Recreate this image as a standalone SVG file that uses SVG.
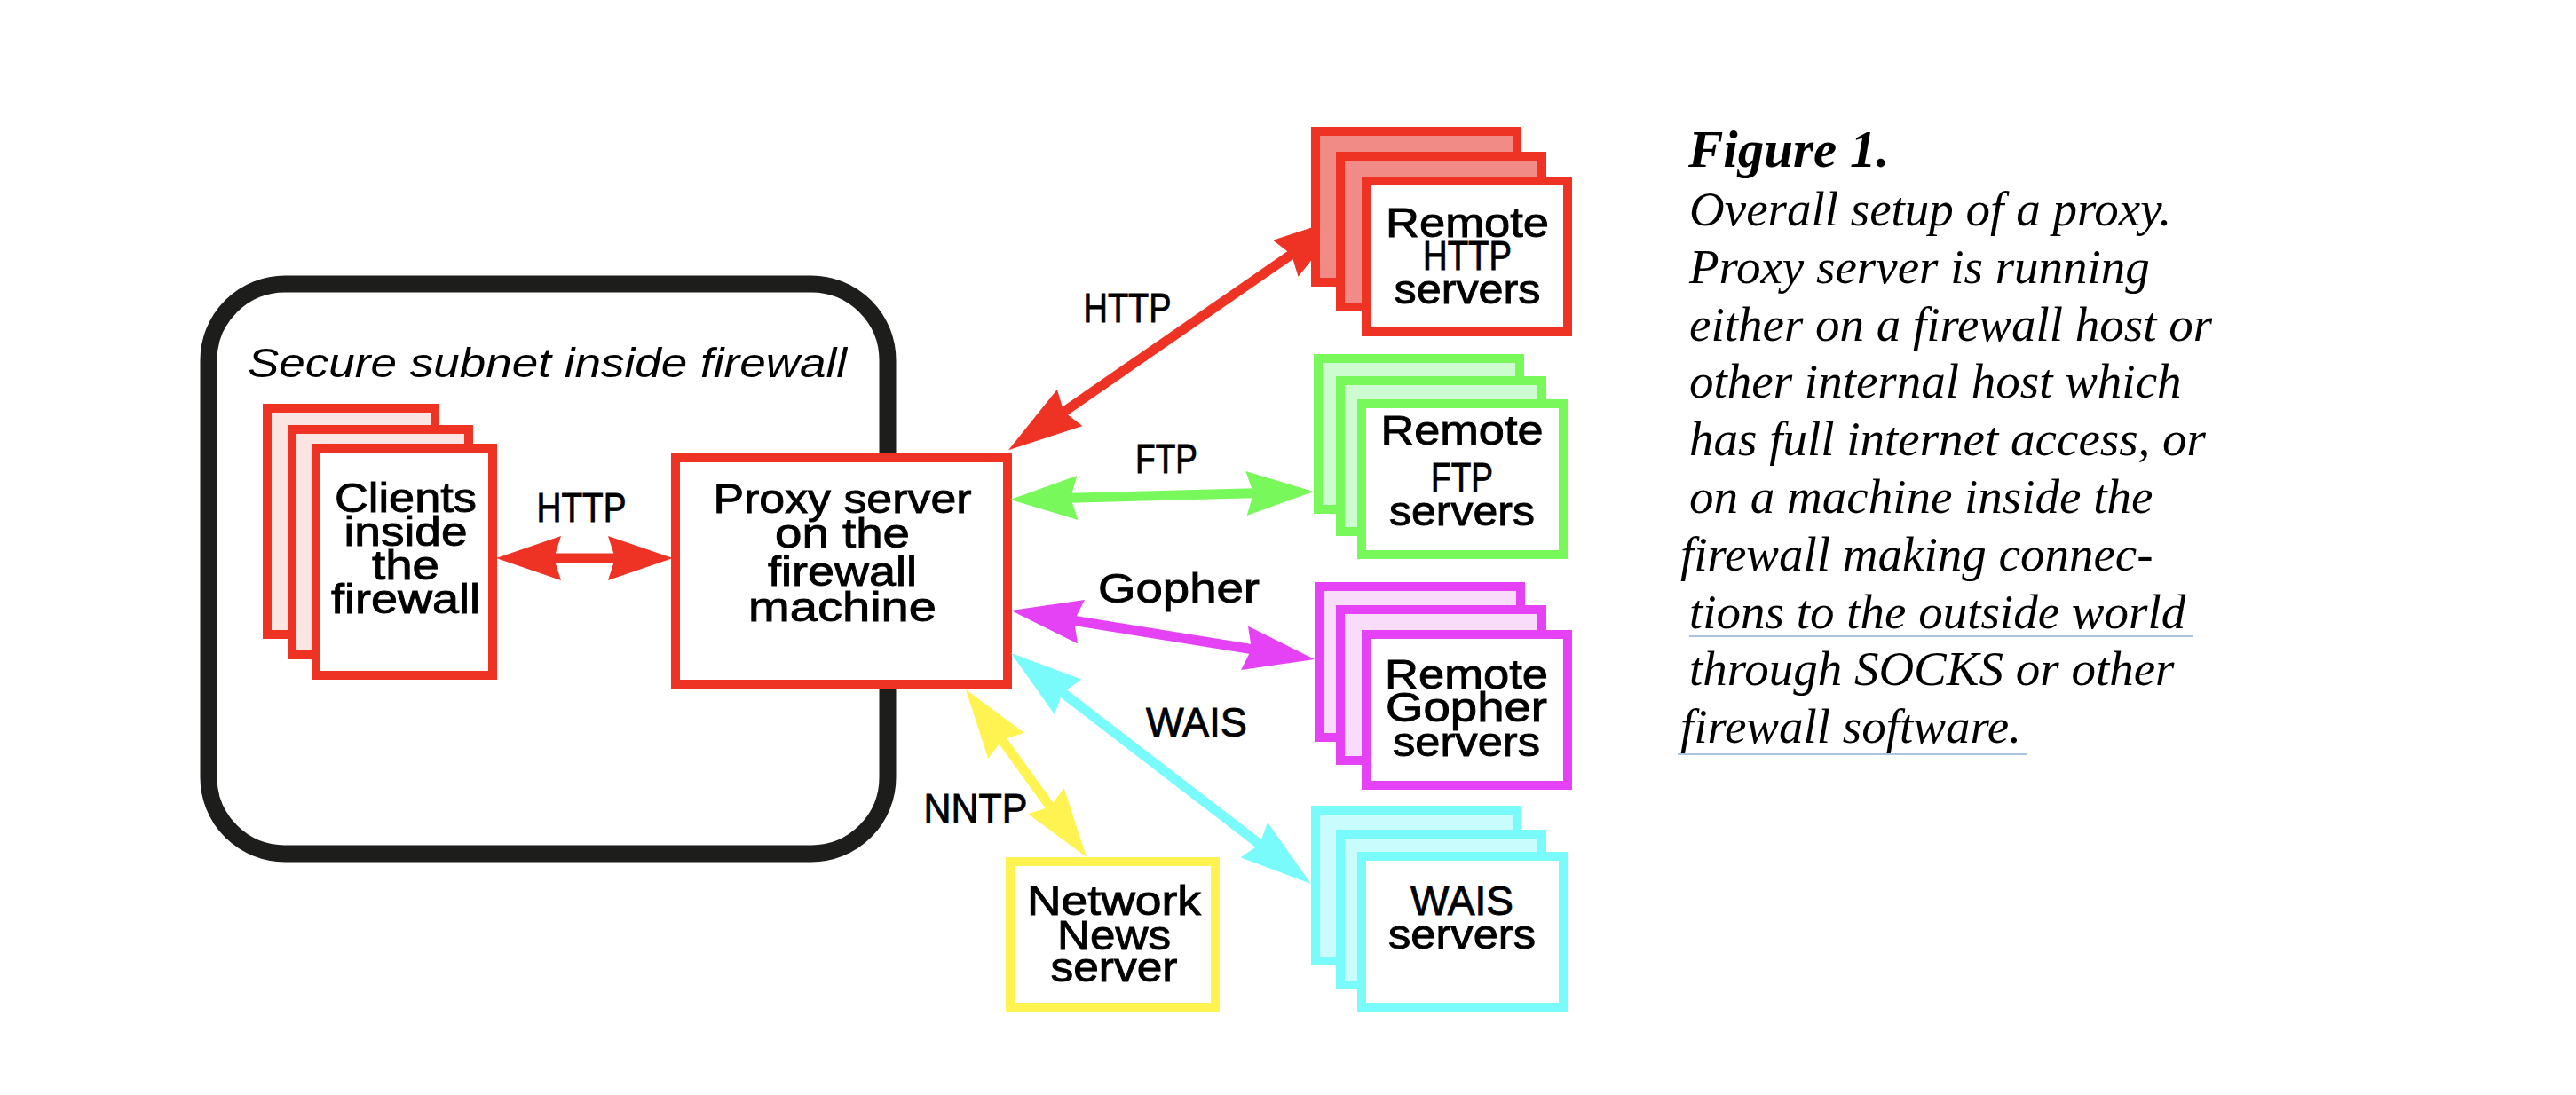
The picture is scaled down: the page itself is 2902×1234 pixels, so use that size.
<svg xmlns="http://www.w3.org/2000/svg" width="2902" height="1234" viewBox="0 0 2902 1234">
<style>
.lbl{font-family:"Liberation Sans",Arial,sans-serif;font-size:47px;fill:#000;stroke:#000;stroke-width:0.9px;text-anchor:middle}
.sub{font-family:"Liberation Sans",Arial,sans-serif;font-style:italic;font-size:46px;fill:#000}
.cap{font-family:"Liberation Serif","Times New Roman",serif;font-style:italic;font-size:55px;fill:#000}
.fig{font-family:"Liberation Serif","Times New Roman",serif;font-style:italic;font-weight:bold;font-size:59px;fill:#000}
.box{stroke-width:10}
.r{stroke:#ee3224}
.g{stroke:#78f85b}
.m{stroke:#e541f5}
.c{stroke:#79fbfb}
.y{stroke:#fef350}
.front{fill:#fff}
.conn{stroke-width:11;fill:none}
.ul{stroke:#a9c4dc;stroke-width:2}
</style>
<defs>
<marker id="ah-r-s" viewBox="0 0 73 50" refX="43" refY="25" markerWidth="73" markerHeight="50" markerUnits="userSpaceOnUse" orient="auto-start-reverse"><path d="M0,0 L73,25 L0,50 L8,25 Z" fill="#ee3224"/></marker>
<marker id="ah-r" viewBox="0 0 84 50" refX="54" refY="25" markerWidth="84" markerHeight="50" markerUnits="userSpaceOnUse" orient="auto-start-reverse"><path d="M0,0 L84,25 L0,50 L8,25 Z" fill="#ee3224"/></marker>
<marker id="ah-g" viewBox="0 0 76 50" refX="46" refY="25" markerWidth="76" markerHeight="50" markerUnits="userSpaceOnUse" orient="auto-start-reverse"><path d="M0,0 L76,25 L0,50 L8,25 Z" fill="#78f85b"/></marker>
<marker id="ah-m" viewBox="0 0 80 50" refX="50" refY="25" markerWidth="80" markerHeight="50" markerUnits="userSpaceOnUse" orient="auto-start-reverse"><path d="M0,0 L80,25 L0,50 L8,25 Z" fill="#e541f5"/></marker>
<marker id="ah-c" viewBox="0 0 81 50" refX="51" refY="25" markerWidth="81" markerHeight="50" markerUnits="userSpaceOnUse" orient="auto-start-reverse"><path d="M0,0 L81,25 L0,50 L8,25 Z" fill="#79fbfb"/></marker>
<marker id="ah-y" viewBox="0 0 78 50" refX="48" refY="25" markerWidth="78" markerHeight="50" markerUnits="userSpaceOnUse" orient="auto-start-reverse"><path d="M0,0 L78,25 L0,50 L8,25 Z" fill="#fef350"/></marker>
</defs>
<rect width="2902" height="1234" fill="#fff"/>

<g id="firewall-subnet">
<rect x="235" y="320" width="765" height="642" rx="86" ry="86" fill="none" stroke="#1d1d1b" stroke-width="19"/>
<text class="sub" x="279" y="425" textLength="675" lengthAdjust="spacingAndGlyphs">Secure subnet inside firewall</text>
</g>

<g id="clients">
<rect class="box r" x="301" y="460" width="189" height="255" fill="#fbe5e3"/>
<rect class="box r" x="329" y="484" width="199" height="254" fill="#fbe5e3"/>
<rect class="box r front" x="356" y="505" width="199" height="256"/>
<text class="lbl" x="457" y="577" textLength="160" lengthAdjust="spacingAndGlyphs">Clients</text>
<text class="lbl" x="457" y="615" textLength="139" lengthAdjust="spacingAndGlyphs">inside</text>
<text class="lbl" x="457" y="653" textLength="76" lengthAdjust="spacingAndGlyphs">the</text>
<text class="lbl" x="457" y="691" textLength="168" lengthAdjust="spacingAndGlyphs">firewall</text>
</g>

<g id="proxy">
<rect class="box r front" x="761" y="516" width="374" height="255"/>
<text class="lbl" x="949" y="578" textLength="291" lengthAdjust="spacingAndGlyphs">Proxy server</text>
<text class="lbl" x="949" y="617" textLength="152" lengthAdjust="spacingAndGlyphs">on the</text>
<text class="lbl" x="949" y="660" textLength="168" lengthAdjust="spacingAndGlyphs">firewall</text>
<text class="lbl" x="949" y="700" textLength="212" lengthAdjust="spacingAndGlyphs">machine</text>
</g>

<g id="connectors">
<line class="conn r" x1="589" y1="629" x2="728" y2="629" marker-start="url(#ah-r-s)" marker-end="url(#ah-r-s)"/>
<text class="lbl" x="655" y="588" textLength="101" lengthAdjust="spacingAndGlyphs">HTTP</text>
<line class="conn r" x1="1160.7" y1="490.2" x2="1492.7" y2="260.5" marker-start="url(#ah-r)" marker-end="url(#ah-r)"/>
<text class="lbl" x="1270" y="363" textLength="99" lengthAdjust="spacingAndGlyphs">HTTP</text>
<line class="conn g" x1="1168" y1="562.2" x2="1450" y2="554.8" marker-start="url(#ah-g)" marker-end="url(#ah-g)"/>
<text class="lbl" x="1314" y="533" textLength="70" lengthAdjust="spacingAndGlyphs">FTP</text>
<line class="conn m" x1="1168.6" y1="692.8" x2="1451.4" y2="738.2" marker-start="url(#ah-m)" marker-end="url(#ah-m)"/>
<text class="lbl" x="1328" y="679" textLength="182" lengthAdjust="spacingAndGlyphs">Gopher</text>
<line class="conn c" x1="1162.8" y1="754.3" x2="1453.2" y2="977.7" marker-start="url(#ah-c)" marker-end="url(#ah-c)"/>
<text class="lbl" x="1348" y="830" textLength="114" lengthAdjust="spacingAndGlyphs">WAIS</text>
<line class="conn y" x1="1105.5" y1="801.4" x2="1206.5" y2="941.6" marker-start="url(#ah-y)" marker-end="url(#ah-y)"/>
<text class="lbl" x="1099" y="927" textLength="117" lengthAdjust="spacingAndGlyphs">NNTP</text>
</g>

<g id="http-servers">
<rect class="box r" x="1482" y="148" width="227" height="170" fill="#f08b85"/>
<rect class="box r" x="1510" y="176" width="227" height="170" fill="#f08b85"/>
<rect class="box r front" x="1539" y="204" width="227" height="170"/>
<text class="lbl" x="1653" y="267" textLength="184" lengthAdjust="spacingAndGlyphs">Remote</text>
<text class="lbl" x="1653" y="304" textLength="100" lengthAdjust="spacingAndGlyphs">HTTP</text>
<text class="lbl" x="1653" y="342" textLength="165" lengthAdjust="spacingAndGlyphs">servers</text>
</g>

<g id="ftp-servers">
<rect class="box g" x="1485" y="404" width="227" height="170" fill="#cdfcd1"/>
<rect class="box g" x="1510" y="429" width="227" height="170" fill="#cdfcd1"/>
<rect class="box g front" x="1534" y="455" width="227" height="170"/>
<text class="lbl" x="1647" y="501" textLength="183" lengthAdjust="spacingAndGlyphs">Remote</text>
<text class="lbl" x="1647" y="554" textLength="70" lengthAdjust="spacingAndGlyphs">FTP</text>
<text class="lbl" x="1647" y="592" textLength="164" lengthAdjust="spacingAndGlyphs">servers</text>
</g>

<g id="gopher-servers">
<rect class="box m" x="1486" y="661" width="227" height="170" fill="#f8dcf9"/>
<rect class="box m" x="1510" y="687" width="227" height="170" fill="#f8dcf9"/>
<rect class="box m front" x="1539" y="715" width="227" height="170"/>
<text class="lbl" x="1652" y="776" textLength="184" lengthAdjust="spacingAndGlyphs">Remote</text>
<text class="lbl" x="1652" y="813" textLength="182" lengthAdjust="spacingAndGlyphs">Gopher</text>
<text class="lbl" x="1652" y="852" textLength="166" lengthAdjust="spacingAndGlyphs">servers</text>
</g>

<g id="wais-servers">
<rect class="box c" x="1482" y="913" width="227" height="170" fill="#c9fdfd"/>
<rect class="box c" x="1510" y="940" width="227" height="170" fill="#c9fdfd"/>
<rect class="box c front" x="1534" y="965" width="227" height="170"/>
<text class="lbl" x="1647" y="1031" textLength="116" lengthAdjust="spacingAndGlyphs">WAIS</text>
<text class="lbl" x="1647" y="1069" textLength="166" lengthAdjust="spacingAndGlyphs">servers</text>
</g>

<g id="news-server">
<rect class="box y front" x="1138" y="971" width="231" height="164"/>
<text class="lbl" x="1255" y="1031" textLength="196" lengthAdjust="spacingAndGlyphs">Network</text>
<text class="lbl" x="1255" y="1070" textLength="128" lengthAdjust="spacingAndGlyphs">News</text>
<text class="lbl" x="1255" y="1106" textLength="143" lengthAdjust="spacingAndGlyphs">server</text>
</g>

<g id="caption">
<text class="fig" x="1902" y="188">Figure 1.</text>
<text class="cap" x="1903" y="254">Overall setup of a proxy.</text>
<text class="cap" x="1903" y="319">Proxy server is running</text>
<text class="cap" x="1903" y="384">either on a firewall host or</text>
<text class="cap" x="1903" y="448">other internal host which</text>
<text class="cap" x="1903" y="513">has full internet access, or</text>
<text class="cap" x="1903" y="578">on a machine inside the</text>
<text class="cap" x="1893" y="643">firewall making connec-</text>
<text class="cap" x="1903" y="708">tions to the outside world</text>
<text class="cap" x="1903" y="772">through SOCKS or other</text>
<text class="cap" x="1893" y="837">firewall software.</text>
<line class="ul" x1="1903" y1="717" x2="2470" y2="717"/>
<line class="ul" x1="1890" y1="850" x2="2283" y2="850"/>
</g>
</svg>
